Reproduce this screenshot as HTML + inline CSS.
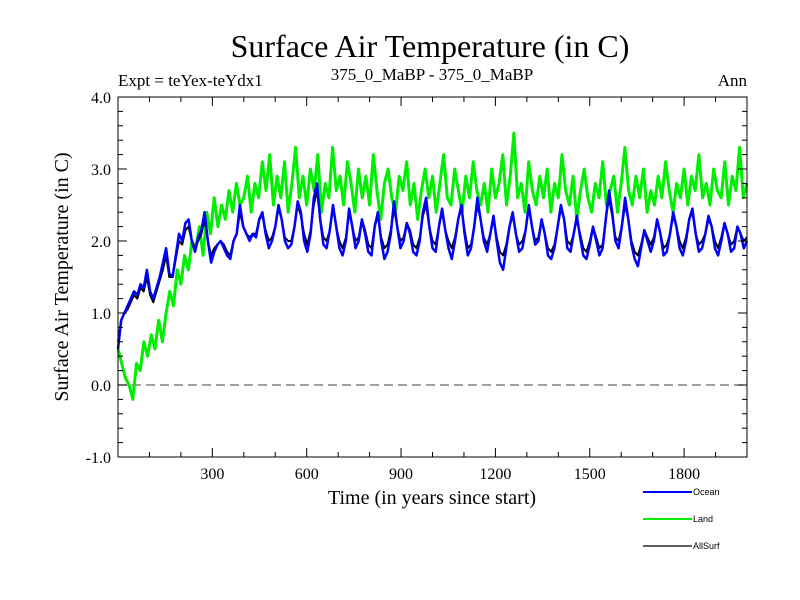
<!DOCTYPE html>
<html><head><meta charset="utf-8"><style>
body{margin:0;background:#fff}
svg{display:block}
.serif{font-family:"Liberation Serif",serif}
.sans{font-family:"Liberation Sans",sans-serif}
</style></head><body>
<svg id="chart" width="800" height="600" xmlns="http://www.w3.org/2000/svg">
<text class="serif" x="430" y="57" font-size="32" text-anchor="middle">Surface Air Temperature (in C)</text>
<text class="serif" x="118" y="86" font-size="17">Expt = teYex-teYdx1</text>
<text class="serif" x="432" y="80" font-size="17" text-anchor="middle">375_0_MaBP - 375_0_MaBP</text>
<text class="serif" x="747" y="86" font-size="17" text-anchor="end">Ann</text>
<text class="serif" x="432" y="504" font-size="20" text-anchor="middle">Time (in years since start)</text>
<text class="serif" font-size="20" text-anchor="middle" transform="translate(68,277) rotate(-90)">Surface Air Temperature (in C)</text>
<g id="plot"></g>
<g id="legend">
<line x1="643" y1="492" x2="692" y2="492" stroke="#0000ff" stroke-width="2"/>
<text class="sans" x="693" y="495" font-size="9">Ocean</text>
<line x1="643" y1="519" x2="692" y2="519" stroke="#00ee00" stroke-width="2"/>
<text class="sans" x="693" y="522" font-size="9">Land</text>
<line x1="643" y1="546" x2="692" y2="546" stroke="#000" stroke-width="1.2"/>
<text class="sans" x="693" y="549" font-size="9">AllSurf</text>
</g>
</svg>
<script>
const xTickLabels=[300,600,900,1200,1500,1800];
const yTickLabels=[-1.0,0.0,1.0,2.0,3.0,4.0];
const ocean=[0.5,0.9,1.0,1.1,1.2,1.3,1.25,1.4,1.35,1.6,1.3,1.2,1.35,1.5,1.7,1.9,1.55,1.5,1.8,2.1,2.0,2.25,2.3,2.0,1.85,2.05,2.15,2.4,2.0,1.7,1.85,1.95,2.0,1.9,1.8,1.75,2.0,2.1,2.5,2.2,2.1,
2.0,2.1,2.05,2.3,2.4,2.1,1.9,2.0,2.2,2.5,2.3,2.0,1.9,1.95,2.2,2.55,2.4,2.0,1.85,2.1,2.6,2.8,2.3,1.95,1.9,2.15,2.5,2.2,1.9,1.8,2.0,2.45,2.2,1.9,2.0,2.3,2.1,1.85,1.8,2.2,2.4,2.0,1.75,1.85,2.1,2.55,2.2,1.9,2.0,2.25,2.1,1.85,1.8,2.0,2.4,2.6,2.2,1.9,1.85,2.2,2.45,2.15,1.9,1.75,2.0,2.3,2.5,2.1,1.8,1.9,2.2,2.6,2.3,2.0,1.85,2.1,2.35,2.0,1.7,1.6,1.9,2.2,2.4,2.1,1.85,1.9,2.15,2.5,2.2,1.95,2.0,2.3,2.1,1.8,1.75,1.9,2.2,2.5,2.3,1.9,1.85,2.1,2.35,2.05,1.8,1.75,1.95,2.2,2.0,1.8,1.9,2.3,2.7,2.4,2.0,1.9,2.2,2.6,2.3,1.95,1.75,1.65,1.9,2.15,2.0,1.85,2.0,2.3,2.1,1.8,1.85,2.1,2.4,2.2,1.9,1.8,2.0,2.3,2.45,2.1,1.85,1.9,2.1,2.35,2.2,1.9,1.8,2.0,2.25,2.1,1.85,1.9,2.2,2.1,1.9,2.0];
const allsurf=[0.6,0.9,1.0,1.05,1.15,1.25,1.2,1.35,1.3,1.5,1.25,1.15,1.3,1.45,1.6,1.8,1.5,1.5,1.75,2.0,1.95,2.15,2.2,2.0,1.9,2.0,2.1,2.3,2.0,1.8,1.9,1.95,2.0,1.95,1.85,1.8,2.0,2.1,2.4,2.2,2.1,
2.05,2.1,2.1,2.3,2.35,2.15,2.0,2.05,2.2,2.45,2.3,2.05,2.0,2.0,2.2,2.5,2.35,2.1,1.95,2.15,2.5,2.7,2.3,2.05,2.0,2.15,2.45,2.2,2.0,1.9,2.05,2.4,2.2,2.0,2.05,2.3,2.15,1.95,1.9,2.2,2.35,2.05,1.9,1.95,2.15,2.45,2.2,2.0,2.05,2.25,2.15,1.95,1.9,2.05,2.35,2.5,2.2,2.0,1.95,2.2,2.4,2.15,2.0,1.9,2.05,2.3,2.45,2.15,1.9,1.95,2.2,2.5,2.3,2.05,1.95,2.1,2.3,2.05,1.85,1.8,1.95,2.2,2.35,2.1,1.95,2.0,2.15,2.45,2.2,2.0,2.05,2.3,2.1,1.9,1.85,1.95,2.2,2.45,2.3,2.0,1.95,2.1,2.3,2.1,1.9,1.85,2.0,2.2,2.05,1.9,1.95,2.3,2.6,2.35,2.05,2.0,2.2,2.5,2.3,2.0,1.85,1.8,1.95,2.15,2.05,1.95,2.05,2.3,2.1,1.9,1.95,2.1,2.35,2.2,2.0,1.9,2.05,2.3,2.4,2.1,1.95,2.0,2.1,2.3,2.2,2.0,1.9,2.05,2.25,2.1,1.95,2.0,2.2,2.1,2.0,2.05];
const land=[0.5,0.3,0.1,0.0,-0.2,0.3,0.2,0.6,0.4,0.7,0.5,0.9,0.6,1.0,1.3,1.1,1.6,1.4,1.8,1.6,2.0,1.9,2.2,1.8,2.4,2.1,2.6,2.2,2.5,2.3,2.7,2.4,2.8,2.5,2.6,2.9,2.4,2.8,2.6,3.1,2.7,
3.2,2.5,2.9,2.6,3.1,2.4,2.8,3.3,2.6,2.9,2.5,3.0,2.7,3.2,2.4,2.8,2.6,3.3,2.7,2.9,2.5,3.1,2.8,2.4,3.0,2.6,2.9,2.5,3.2,2.7,2.3,2.8,3.0,2.6,2.4,2.9,2.7,3.1,2.5,2.8,2.3,2.7,3.0,2.6,2.9,2.4,2.8,3.2,2.6,2.5,3.0,2.7,2.4,2.9,2.6,3.1,2.7,2.5,2.8,2.4,3.0,2.6,2.8,3.2,2.5,2.9,3.5,2.6,2.8,2.4,3.1,2.7,2.5,2.9,2.6,3.0,2.4,2.8,2.6,3.2,2.7,2.5,2.9,2.3,2.7,3.0,2.6,2.4,2.8,2.6,3.1,2.5,2.7,2.9,2.4,2.8,3.3,2.7,2.5,2.9,2.6,3.0,2.4,2.7,2.5,2.9,2.6,3.1,2.7,2.4,2.8,2.6,3.0,2.5,2.9,2.7,3.2,2.6,2.8,2.5,3.0,2.7,2.6,3.1,2.5,2.9,2.7,3.3,2.6,2.8];
const L=118,R=747,T=97,B=457,X0=0,X1=2000,Y0=-1,Y1=4;
const xs=v=>L+(v-X0)/(X1-X0)*(R-L);
const ys=v=>B-(v-Y0)/(Y1-Y0)*(B-T);
const NS='http://www.w3.org/2000/svg';
const g=document.getElementById('plot');
function mk(t,a){const e=document.createElementNS(NS,t);for(const k in a)e.setAttribute(k,a[k]);g.appendChild(e);return e;}
const z=mk('line',{x1:L,x2:R,y1:ys(0),y2:ys(0),stroke:'#666','stroke-width':1.2,'stroke-dasharray':'9,5'});


function series(arr,color,w,name){
  const n=arr.length;
  const pts=arr.map((v,i)=>xs(X0+i*(X1-X0)/(n-1)).toFixed(1)+','+ys(v).toFixed(1)).join(' ');
  const p=mk('polyline',{points:pts,fill:'none',stroke:color,'stroke-width':w,'stroke-linejoin':'round'});
  
  
}
series(land,'#00ee00',3,'land-line');
series(allsurf,'#000000',2,'allsurf-line');
series(ocean,'#0000ff',2.5,'ocean-line');
const f=mk('rect',{x:L,y:T,width:R-L,height:B-T,fill:'none',stroke:'#000','stroke-width':1});


for(let v=100;v<X1;v+=100){
  const big=v%300===0, len=big?9:5;
  mk('line',{x1:xs(v),x2:xs(v),y1:B,y2:B-len,stroke:'#000'});
  mk('line',{x1:xs(v),x2:xs(v),y1:T,y2:T+len,stroke:'#000'});
}
for(let v=-0.8;v<4;v+=0.2){
  const big=Math.abs(v-Math.round(v))<1e-6, len=big?9:5;
  mk('line',{x1:L,x2:L+len,y1:ys(v),y2:ys(v),stroke:'#000'});
  mk('line',{x1:R,x2:R-len,y1:ys(v),y2:ys(v),stroke:'#000'});
}
xTickLabels.forEach(v=>{
  const t=mk('text',{x:xs(v),y:B+22,'font-size':16,'text-anchor':'middle','class':'serif'});
  t.textContent=v;
  
  
});
yTickLabels.forEach(v=>{
  const t=mk('text',{x:L-7,y:ys(v)+6,'font-size':16,'text-anchor':'end','class':'serif'});
  t.textContent=v.toFixed(1);
  
  
});
</script>
</body></html>
